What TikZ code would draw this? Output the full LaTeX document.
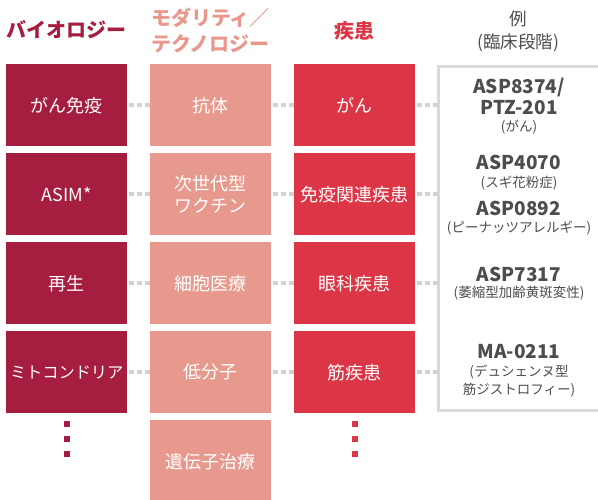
\documentclass[tikz,border=0pt]{standalone}
\usepackage{fontspec}
\setmainfont{Noto Sans CJK JP}
\definecolor{bio}{HTML}{A51E3F}
\definecolor{mod}{HTML}{E8998D}
\definecolor{dis}{HTML}{DC3646}
\definecolor{tgray}{HTML}{4D4D4D}
\definecolor{lgray}{HTML}{D2D2D2}
\definecolor{fgray}{HTML}{D9D9D9}
\begin{document}
\begin{tikzpicture}[x=1pt,y=-1pt,
  box/.style={minimum width=121pt, minimum height=82pt, inner sep=0pt, text=white,
    font=\fontsize{18}{22}\selectfont, align=center, anchor=north west},
  head/.style={font=\bfseries\fontsize{20}{26}\selectfont, align=center, inner sep=0pt},
  conn/.style={draw=lgray, line width=4pt, dash pattern=on 5pt off 3pt, shorten <=2pt},
  code/.style={font=\bfseries\fontsize{19}{21}\selectfont, text=tgray, inner sep=0pt},
  note/.style={font=\fontsize{13.5}{18}\selectfont, text=tgray, inner sep=0pt, align=center},
  dotsq/.style={minimum size=6pt, inner sep=0pt},
]
\useasboundingbox (0,0) rectangle (598,500);
% headings
\node[head, text=bio] (h1) at (66.5,30) {バイオロジー};
\node[head, text=mod] (h2) at (210.5,31) {モダリティ／\\テクノロジー};
\node[head, text=dis] (h3) at (354.5,31) {疾患};
\node[note, font=\fontsize{17.5}{23}\selectfont] (h4) at (518,31) {例\\(臨床段階)};
% column 1
\node[box, fill=bio] (b1) at (6,64) {がん免疫};
\node[box, fill=bio] (b2) at (6,153) {ASIM*};
\node[box, fill=bio] (b3) at (6,242) {再生};
\node[box, fill=bio, font=\fontsize{16.2}{20}\selectfont] (b4) at (6,331) {ミトコンドリア};
% column 2
\node[box, fill=mod] (m1) at (150,64) {抗体};
\node[box, fill=mod] (m2) at (150,153) {次世代型\\ワクチン};
\node[box, fill=mod] (m3) at (150,242) {細胞医療};
\node[box, fill=mod] (m4) at (150,331) {低分子};
\node[box, fill=mod] (m5) at (150,420) {遺伝子治療};
% column 3
\node[box, fill=dis] (d1) at (294,64) {がん};
\node[box, fill=dis] (d2) at (294,153) {免疫関連疾患};
\node[box, fill=dis] (d3) at (294,242) {眼科疾患};
\node[box, fill=dis] (d4) at (294,331) {筋疾患};
% example frame
\node[minimum width=163pt, minimum height=344pt, inner sep=0pt, anchor=north west] (ex) at (438.5,66.5) {};
\draw[fgray, line width=3pt] (ex.north east) -- (ex.north west) -- (ex.south west) -- (ex.south east);
% connectors
\foreach \i in {1,2,3,4}{
  \draw[conn] (b\i.east) -- (m\i.west);
  \draw[conn] (m\i.east) -- (d\i.west);
  \draw[conn] (d\i.east) -- (ex.west |- d\i.east);
}
% examples
\node[code] (e1a) at (519,88) {ASP8374/};
\node[code] (e1b) at (519,108) {PTZ-201};
\node[note] (e1c) at (519,127) {(がん)};
\node[code] (e2a) at (519,162) {ASP4070};
\node[note] (e2b) at (519,183) {(スギ花粉症)};
\node[code] (e2c) at (519,208) {ASP0892};
\node[note] (e2d) at (519,228) {(ピーナッツアレルギー)};
\node[code] (e3a) at (519,274) {ASP7317};
\node[note] (e3b) at (519,293) {(萎縮型加齢黄斑変性)};
\node[code] (e4a) at (519,352) {MA-0211};
\node[note] (e4b) at (519,381) {(デュシェンヌ型\\筋ジストロフィー)};
% continuation dots
\foreach \j/\y in {1/424,2/439,3/454}{
  \node[dotsq, fill=bio] (p\j) at (66.5,\y) {};
  \node[dotsq, fill=dis] (q\j) at (354.5,\y) {};
}
\end{tikzpicture}
\end{document}
